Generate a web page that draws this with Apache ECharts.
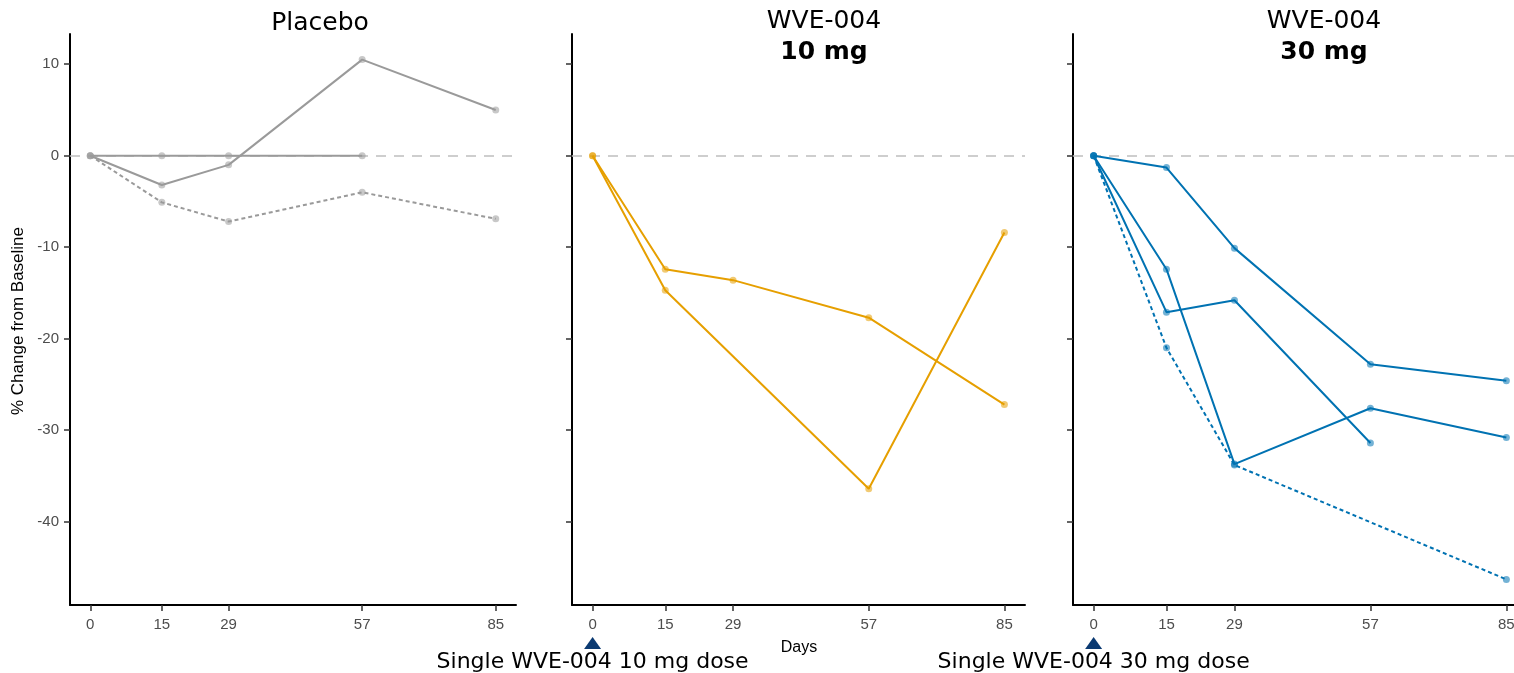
<!DOCTYPE html>
<html>
<head>
<meta charset="utf-8">
<script src="https://cdn.jsdelivr.net/npm/echarts@6/dist/echarts.min.js"></script>
<style>
  html, body { margin: 0; padding: 0; background: #fff; overflow: hidden; }
  #chart { width: 1540px; height: 673px; }
</style>
</head>
<body>
<div id="chart"></div>
<script>
// study days and y ticks
var days = [0, 15, 29, 57, 85];
var yTicks = [-40, -30, -20, -10, 0, 10];

// % change from baseline, one array per subject (null = no visit)
var placeboA = [0, -3.2, -1.0, 10.5, 5.0];
var placeboB = [0, 0, 0, 0, null];
var placeboC = [0, -5.1, -7.2, -4.0, -6.9];      // dotted
var dose10A = [0, -12.4, -13.6, -17.7, -27.2];
var dose10B = [0, -14.7, null, -36.4, -8.4];
var dose30A = [0, -1.3, -10.1, -22.8, -24.6];
var dose30B = [0, -12.4, -33.7, -27.6, -30.8];
var dose30C = [0, -17.1, -15.8, -31.4, null];
var dose30D = [0, -21.0, -33.8, null, -46.3];     // dotted

var GREY = "#9A9A9A", ORANGE = "#E69F00", BLUE = "#0072B2";
var SANS = "Liberation Sans, Arial, sans-serif";
var VERD = "DejaVu Sans, Verdana, sans-serif";

// last panel runs past the window edge, as in the original
var panels = [
  { left: 70, width: 446 },
  { left: 572, width: 453 },
  { left: 1073, width: 454 }
];

function pairs(vals) {
  var out = [];
  for (var i = 0; i < days.length; i++) {
    if (vals[i] !== null) out.push([days[i], vals[i]]);
  }
  return out;
}

function line(idx, vals, color, dotted, zeroLine) {
  var s = {
    type: "line",
    xAxisIndex: idx,
    yAxisIndex: idx,
    data: pairs(vals),
    connectNulls: true,
    symbol: "circle",
    symbolSize: 7,
    lineStyle: { color: color, width: 2, type: dotted ? [4, 3] : "solid" },
    itemStyle: { color: color, opacity: 0.55, borderWidth: 0 },
    z: 3
  };
  if (zeroLine) {
    s.markLine = {
      silent: true,
      symbol: ["none", "none"],
      label: { show: false },
      lineStyle: { color: "#BEBEBE", type: [10, 8], width: 1.5 },
      data: [{ yAxis: 0 }],
      z: 1
    };
  }
  return s;
}

var grids = [], xAxes = [], yAxes = [];
panels.forEach(function (p, i) {
  grids.push({ left: p.left, width: p.width, top: 34, height: 571 });
  xAxes.push({
    type: "value", gridIndex: i, min: -4.25, max: 89.25,
    axisLine: { show: true, onZero: false, lineStyle: { color: "#000", width: 2 } },
    axisTick: { show: true, length: 6, customValues: days, lineStyle: { color: "#333", width: 1.5 } },
    axisLabel: { customValues: days, color: "#4D4D4D", fontSize: 15, fontFamily: SANS, margin: 12 },
    splitLine: { show: false }
  });
  yAxes.push({
    type: "value", gridIndex: i, min: -49.1, max: 13.3,
    axisLine: { show: true, onZero: false, lineStyle: { color: "#000", width: 2 } },
    axisTick: { show: true, length: 6, customValues: yTicks, lineStyle: { color: "#333", width: 1.5 } },
    axisLabel: { show: i === 0, customValues: yTicks, color: "#4D4D4D", fontSize: 15, fontFamily: SANS, margin: 11 },
    splitLine: { show: false }
  });
});

var series = [
  line(0, placeboB, GREY, false, true),
  line(0, placeboA, GREY, false),
  line(0, placeboC, GREY, true),
  line(1, dose10A, ORANGE, false, true),
  line(1, dose10B, ORANGE, false),
  line(2, dose30A, BLUE, false, true),
  line(2, dose30B, BLUE, false),
  line(2, dose30C, BLUE, false),
  line(2, dose30D, BLUE, true)
];

function txt(x, y, text, size, family, weight, extra) {
  var t = {
    type: "text", x: x, y: y,
    style: {
      text: text, fontSize: size, fontFamily: family, fontWeight: weight || "normal",
      fill: "#000", align: "center", verticalAlign: "middle"
    }
  };
  if (extra) for (var k in extra) t[k] = extra[k];
  return t;
}

var chart = echarts.init(document.getElementById("chart"));
chart.setOption({
  animation: false,
  backgroundColor: "#fff",
  grid: grids,
  xAxis: xAxes,
  yAxis: yAxes,
  series: series
});

// annotations placed from the axes
var graphics = [
  txt(320, 23, "Placebo", 25, VERD),
  txt(824, 21, "WVE-004", 25, VERD),
  txt(824, 52, "10 mg", 25, VERD, "bold"),
  txt(1324, 21, "WVE-004", 25, VERD),
  txt(1324, 52, "30 mg", 25, VERD, "bold"),
  txt(799, 648, "Days", 16, SANS),
  txt(18, 321, "% Change from Baseline", 17, SANS, "normal", { rotation: Math.PI / 2 })
];
[[1, "Single WVE-004 10 mg dose"], [2, "Single WVE-004 30 mg dose"]].forEach(function (d) {
  var px = chart.convertToPixel({ xAxisIndex: d[0] }, 0);
  graphics.push({
    type: "polygon",
    shape: { points: [[px - 8.5, 649], [px + 8.5, 649], [px, 637]] },
    style: { fill: "#0B3A72" }
  });
  graphics.push(txt(px, 662, d[1], 22, VERD));
});
chart.setOption({ graphic: graphics });
</script>
</body>
</html>
